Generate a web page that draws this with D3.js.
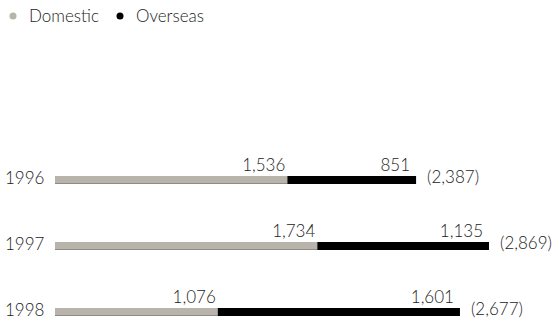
<!DOCTYPE html>
<html>
<head>
<meta charset="utf-8">
<script src="https://cdn.jsdelivr.net/npm/d3@7"></script>
<style>
  body { margin: 0; background: #fff; }
  text { font-family: Lato, "Open Sans", sans-serif; font-weight: 300; fill: #222; }
</style>
</head>
<body>
<div id="chart"></div>
<script>
// data
const years = ["1996", "1997", "1998"];
const domestic = [1536, 1734, 1076];
const overseas = [851, 1135, 1601];
const totals = [2387, 2869, 2677];

const seriesNames = ["Domestic", "Overseas"];
const colors = ["#b8b4ac", "#000000"];

const svgWidth = 553;
const svgHeight = 326;

const svg = d3.select("#chart")
  .append("svg")
  .attr("width", svgWidth)
  .attr("height", svgHeight);

// x scale: bars start at 55px
const xScale = d3.scaleLinear()
  .domain([0, 2869])
  .range([55, 489]);

// y band per year
const yScale = d3.scaleBand()
  .domain(years)
  .range([150, 348])
  .paddingInner(0);

const barH = 8;
const fmt = d3.format(",");

const rows = years.map((y, i) => ({
  year: y,
  dom: domestic[i],
  ovs: overseas[i],
  total: totals[i]
}));

// row vertical positions: bar top
const barTop = d => yScale(d.year) + 26;

const g = svg.append("g");

// domestic segment
g.selectAll(".dom")
  .data(rows)
  .enter()
  .append("rect")
  .attr("x", xScale(0))
  .attr("y", d => barTop(d))
  .attr("width", d => xScale(d.dom) - xScale(0))
  .attr("height", barH)
  .attr("fill", colors[0]);

// thin darker line under domestic segment
g.selectAll(".domLine")
  .data(rows)
  .enter()
  .append("rect")
  .attr("x", xScale(0))
  .attr("y", d => barTop(d) + barH - 1)
  .attr("width", d => xScale(d.dom) - xScale(0))
  .attr("height", 1)
  .attr("fill", "#8f8b85");

// overseas segment
g.selectAll(".ovs")
  .data(rows)
  .enter()
  .append("rect")
  .attr("x", d => xScale(d.dom))
  .attr("y", d => barTop(d))
  .attr("width", d => xScale(d.dom + d.ovs) - xScale(d.dom))
  .attr("height", barH)
  .attr("fill", colors[1]);

// year labels
g.selectAll(".year")
  .data(rows)
  .enter()
  .append("text")
  .attr("x", 5)
  .attr("y", d => barTop(d) + 8)
  .attr("font-size", 17)
  .text(d => d.year);

// domestic value labels
g.selectAll(".domVal")
  .data(rows)
  .enter()
  .append("text")
  .attr("x", d => xScale(d.dom) - 2)
  .attr("y", d => barTop(d) - 5)
  .attr("text-anchor", "end")
  .attr("font-size", 17)
  .text(d => fmt(d.dom));

// overseas value labels
g.selectAll(".ovsVal")
  .data(rows)
  .enter()
  .append("text")
  .attr("x", d => xScale(d.dom + d.ovs) - 6)
  .attr("y", d => barTop(d) - 5)
  .attr("text-anchor", "end")
  .attr("font-size", 17)
  .text(d => fmt(d.ovs));

// totals
g.selectAll(".total")
  .data(rows)
  .enter()
  .append("text")
  .attr("x", d => xScale(d.total) + 11)
  .attr("y", d => barTop(d) + 7)
  .attr("font-size", 17)
  .text(d => `(${fmt(d.total)})`);

// legend
const legend = svg.append("g");
const legendX = [13, 120];
seriesNames.forEach((name, i) => {
  legend.append("circle")
    .attr("cx", legendX[i])
    .attr("cy", 16)
    .attr("r", 3.5)
    .attr("fill", colors[i]);
  legend.append("text")
    .attr("x", legendX[i] + 16)
    .attr("y", 22)
    .attr("font-size", 17)
    .text(name);
});
</script>
</body>
</html>
